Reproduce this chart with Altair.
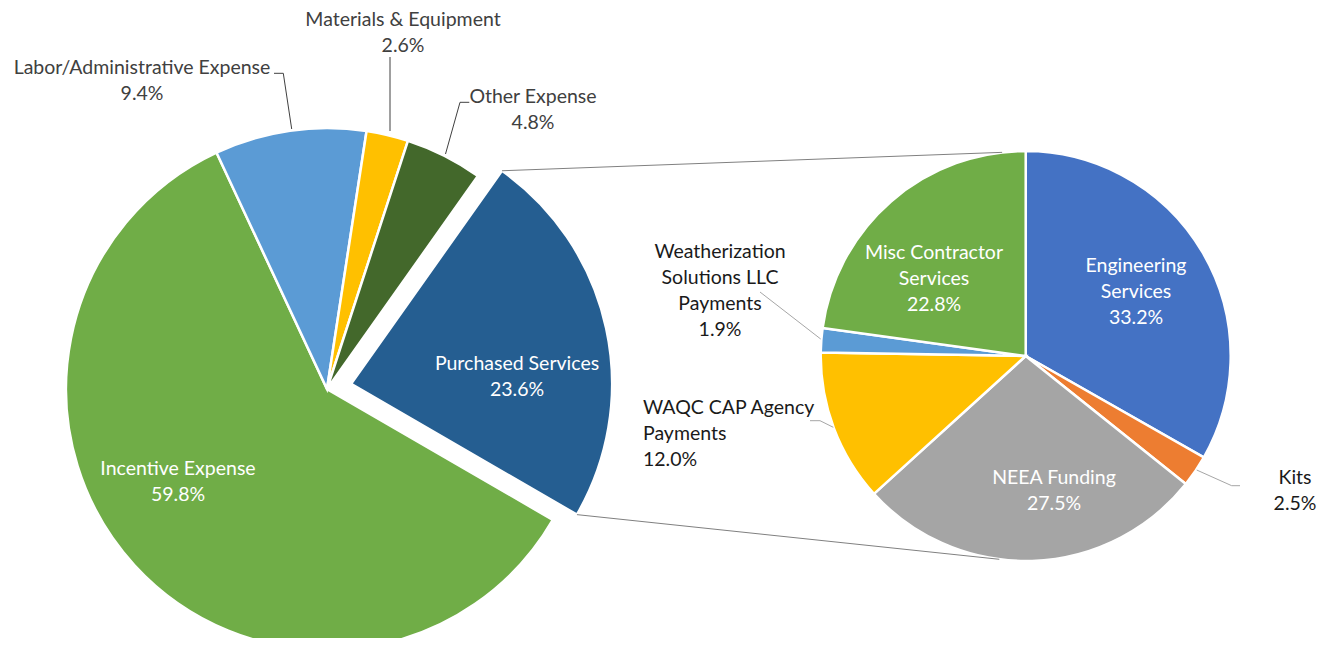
import math
import altair as alt
import pandas as pd

# ---------------- data ----------------
main_categories = ["Incentive Expense", "Labor/Administrative Expense",
                   "Materials & Equipment", "Other Expense", "Purchased Services"]
main_values = [59.8, 9.4, 2.6, 4.8, 23.6]
main_colors = ["#70AD47", "#5B9BD5", "#FFC000", "#43682B", "#255E91"]

sub_categories = ["Engineering Services", "Kits", "NEEA Funding",
                  "WAQC CAP Agency Payments", "Weatherization Solutions LLC Payments",
                  "Misc Contractor Services"]
sub_values = [33.2, 2.5, 27.5, 12.0, 1.9, 22.8]
sub_colors = ["#4472C4", "#ED7D31", "#A5A5A5", "#FFC000", "#5B9BD5", "#70AD47"]

# ---------------- layout ----------------
W, H = 1319, 630
MAIN_CX, MAIN_CY, MAIN_R = 319, 381, 261
MAIN_START_DEG = 120.1
EXPLODE = 24.7
SPLIT = "Purchased Services"
SUB_CX, SUB_CY, SUB_R = 1017.7, 348, 205
SUB_START_DEG = 0.0
CONNECT_TOP_DEG = -6.6
CONNECT_BOTTOM_DEG = 187.4

FONT = "Lato"
FS = 19.5
LH = 26
DARK = "#404040"
BLACK = "#1a1a1a"

# label text display (line breaks), first-line anchor position, alignment, colour
label_layout = {
    "Incentive Expense": ("Incentive Expense", 170, 461, "center", "white"),
    "Labor/Administrative Expense": ("Labor/Administrative Expense", 134, 60, "center", DARK),
    "Materials & Equipment": ("Materials & Equipment", 395, 12, "center", DARK),
    "Other Expense": ("Other Expense", 525, 89, "center", DARK),
    "Purchased Services": ("Purchased Services", 509, 356, "center", "white"),
    "Engineering Services": ("Engineering\nServices", 1128, 258, "center", "white"),
    "Kits": ("Kits", 1287, 470, "center", BLACK),
    "NEEA Funding": ("NEEA Funding", 1046, 470, "center", "white"),
    "WAQC CAP Agency Payments": ("WAQC CAP Agency\nPayments", 635, 400, "left", BLACK),
    "Weatherization Solutions LLC Payments": ("Weatherization\nSolutions LLC\nPayments", 712, 244, "center", BLACK),
    "Misc Contractor Services": ("Misc Contractor\nServices", 926, 245, "center", "white"),
}

leader_lines = [
    ("labor", DARK, [(266, 65.3), (275.3, 65.3), (283.7, 121)]),
    ("materials", DARK, [(382, 49), (382, 123)]),
    ("other", DARK, [(461.3, 94.3), (452, 94.3), (437.5, 146)]),
    ("weather", "#A6A6A6", [(752, 284), (812.7, 331)]),
    ("waqc", "#A6A6A6", [(802, 412.7), (812, 412.7), (825.3, 419.3)]),
    ("kits", "#A6A6A6", [(1188.7, 462), (1223.7, 477.7), (1232, 477.7)]),
]

# ---------------- tables ----------------
main_df = pd.DataFrame({"category": main_categories, "value": main_values,
                        "order": list(range(len(main_categories)))})
sub_df = pd.DataFrame({"category": sub_categories, "value": sub_values,
                       "order": list(range(len(sub_categories)))})


def with_angles(chart, start_deg):
    s = math.radians(start_deg)
    return (chart
            .transform_joinaggregate(total="sum(value)")
            .transform_window(cum="sum(value)", sort=[alt.SortField("order")], frame=[None, 0])
            .transform_calculate(
                t1=f"{s} + 2*PI*datum.cum/datum.total",
                t0=f"{s} + 2*PI*(datum.cum - datum.value)/datum.total",
            )
            .transform_calculate(mid="(datum.t0 + datum.t1)/2"))


main_color = alt.Color("category:N", scale=alt.Scale(domain=main_categories, range=main_colors), legend=None)
sub_color = alt.Color("category:N", scale=alt.Scale(domain=sub_categories, range=sub_colors), legend=None)

# main pie (without split slice)
main_base = with_angles(alt.Chart(main_df), MAIN_START_DEG)
main_pie = (main_base
            .transform_filter(alt.datum.category != SPLIT)
            .mark_arc(outerRadius=MAIN_R, stroke="white", strokeWidth=2.5)
            .encode(theta=alt.Theta("t0:Q", scale=None), theta2="t1:Q",
                    color=main_color, x=alt.value(MAIN_CX), y=alt.value(MAIN_CY)))

# exploded slice
split_base = (main_base
              .transform_filter(alt.datum.category == SPLIT)
              .transform_calculate(
                  ex=f"{MAIN_CX} + {EXPLODE}*sin(datum.mid)",
                  ey=f"{MAIN_CY} - {EXPLODE}*cos(datum.mid)",
              ))
split_pie = (split_base
             .mark_arc(outerRadius=MAIN_R, stroke="white", strokeWidth=2.5)
             .encode(theta=alt.Theta("t0:Q", scale=None), theta2="t1:Q",
                     color=main_color,
                     x=alt.X("ex:Q", scale=None, axis=None),
                     y=alt.Y("ey:Q", scale=None, axis=None)))

main_layer = alt.layer(main_pie, split_pie)

# connector lines from the exploded slice to the secondary pie
ct = math.radians(CONNECT_TOP_DEG)
cb = math.radians(CONNECT_BOTTOM_DEG)
conn_top = (split_base
            .transform_calculate(
                ax=f"datum.ex + {MAIN_R}*sin(datum.t0)",
                ay=f"datum.ey - {MAIN_R}*cos(datum.t0)",
                bx=f"{SUB_CX} + {SUB_R}*sin({ct})",
                by=f"{SUB_CY} - {SUB_R}*cos({ct})",
            )
            .mark_rule(color="#808080", strokeWidth=1)
            .encode(x=alt.X("ax:Q", scale=None, axis=None), y=alt.Y("ay:Q", scale=None, axis=None),
                    x2="bx:Q", y2="by:Q"))
conn_bottom = (split_base
               .transform_calculate(
                   ax=f"datum.ex + {MAIN_R}*sin(datum.t1)",
                   ay=f"datum.ey - {MAIN_R}*cos(datum.t1)",
                   bx=f"{SUB_CX} + {SUB_R}*sin({cb})",
                   by=f"{SUB_CY} - {SUB_R}*cos({cb})",
               )
               .mark_rule(color="#808080", strokeWidth=1)
               .encode(x=alt.X("ax:Q", scale=None, axis=None), y=alt.Y("ay:Q", scale=None, axis=None),
                       x2="bx:Q", y2="by:Q"))

# secondary pie
sub_pie = (with_angles(alt.Chart(sub_df), SUB_START_DEG)
           .mark_arc(outerRadius=SUB_R, stroke="white", strokeWidth=2.5)
           .encode(theta=alt.Theta("t0:Q", scale=None), theta2="t1:Q",
                   color=sub_color, x=alt.value(SUB_CX), y=alt.value(SUB_CY)))

# leader lines
lead_rows = []
for lid, col, pts in leader_lines:
    for i, (px, py) in enumerate(pts):
        lead_rows.append({"id": lid, "col": col, "seq": i, "px": px, "py": py})
leaders = (alt.Chart(pd.DataFrame(lead_rows))
           .mark_line(strokeWidth=1)
           .encode(x=alt.X("px:Q", scale=None, axis=None), y=alt.Y("py:Q", scale=None, axis=None),
                   detail="id:N", order="seq:Q", color=alt.Color("col:N", scale=None)))

# labels
lab_rows = []
for cat, val in list(zip(main_categories, main_values)) + list(zip(sub_categories, sub_values)):
    disp, lx, ly, al, col = label_layout[cat]
    lab_rows.append({"text": f"{disp}\n{val:.1f}%", "lx": lx, "ly": ly, "al": al, "col": col})
lab_df = pd.DataFrame(lab_rows)


def label_layer(align):
    return (alt.Chart(lab_df[lab_df["al"] == align])
            .mark_text(align=align, baseline="middle", font=FONT, fontSize=FS,
                       lineBreak="\n", lineHeight=LH)
            .encode(x=alt.X("lx:Q", scale=None, axis=None), y=alt.Y("ly:Q", scale=None, axis=None),
                    text="text:N", color=alt.Color("col:N", scale=None)))


chart = (alt.layer(main_layer, sub_pie, conn_top, conn_bottom, leaders,
                   label_layer("center"), label_layer("left"))
         .resolve_scale(color="independent")
         .properties(width=W, height=H, padding=0,
                     autosize=alt.AutoSizeParams(type="none"))
         .configure(background="white", view=alt.ViewConfig(stroke=None)))

chart.save("out.html", embed_options={"renderer": "svg", "actions": False})
